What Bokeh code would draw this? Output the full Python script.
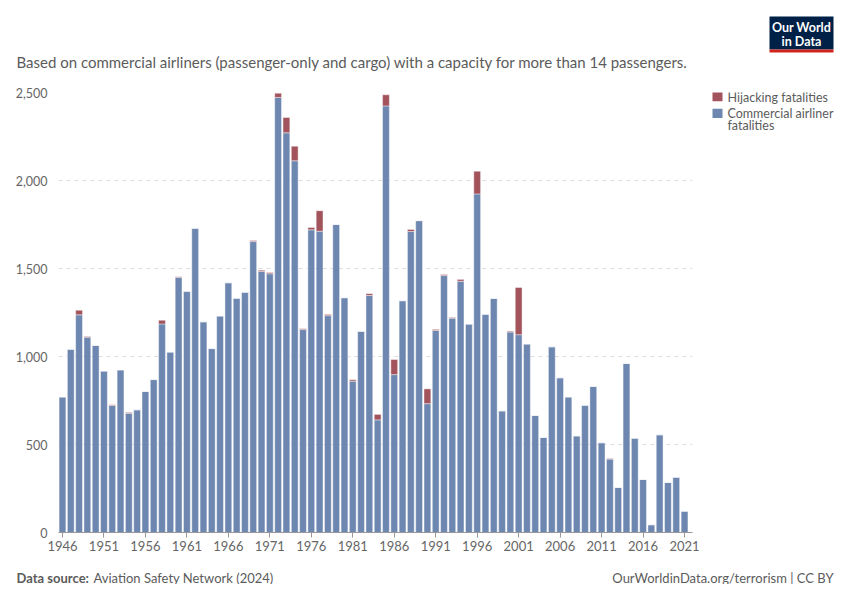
from bokeh.plotting import figure
from bokeh.layouts import column, row
from bokeh.models import ColumnDataSource, Range1d, FixedTicker, NumeralTickFormatter
from bokeh.core.properties import value
from bokeh.embed import file_html
from bokeh.resources import INLINE

years = list(range(1946, 2022))
commercial = [770, 1041, 1237, 1110, 1063, 917, 722, 924, 677, 697,
              801, 869, 1185, 1025, 1450, 1369, 1728, 1197, 1045, 1230,
              1419, 1331, 1365, 1653, 1483, 1470, 2472, 2271, 2112, 1153,
              1720, 1712, 1232, 1750, 1334, 860, 1143, 1347, 640, 2424,
              897, 1317, 1710, 1772, 732, 1148, 1460, 1218, 1428, 1184,
              1924, 1240, 1330, 691, 1139, 1124, 1071, 665, 540, 1055,
              879, 770, 549, 723, 830, 510, 417, 256, 960, 536,
              301, 44, 555, 284, 314, 121]
hijacking = [0, 0, 26, 3, 0, 0, 4, 0, 5, 0,
             0, 0, 21, 0, 3, 2, 0, 0, 0, 0,
             0, 0, 0, 6, 7, 7, 24, 87, 83, 5,
             13, 116, 7, 0, 0, 8, 0, 10, 31, 63,
             86, 0, 12, 0, 84, 6, 6, 4, 10, 0,
             129, 0, 0, 0, 5, 268, 0, 0, 0, 0,
             0, 0, 0, 0, 0, 0, 3, 0, 0, 0,
             0, 0, 0, 0, 0, 0]
x_ticks = list(range(1946, 2022, 5))
y_ticks = [0, 500, 1000, 1500, 2000, 2500]

subtitle = "Based on commercial airliners (passenger-only and cargo) with a capacity for more than 14 passengers."
legend_lines = ["Hijacking fatalities", "Commercial airliner", "fatalities"]
logo_lines = ["Our World", "in Data"]
source_bold = "Data source:"
source_text = "Aviation Safety Network (2024)"
credit = "OurWorldinData.org/terrorism | CC BY"

BLUE = "#6d87b0"
RED = "#a2535c"
GREY = "#5b5b5b"
FONT = "Lato"

TOTAL_W, TOTAL_H = 834, 584
TOP_H, MID_H = 80, 484
BOT_H = TOTAL_H - TOP_H - MID_H
MAIN_W = 700
RIGHT_W = TOTAL_W - MAIN_W


def panel(w, h):
    f = figure(width=w, height=h, output_backend="svg", toolbar_location=None,
               title=None,
               x_range=Range1d(0, w), y_range=Range1d(h, 0),
               x_axis_location=None, y_axis_location=None,
               min_border=0)
    f.grid.visible = False
    f.outline_line_color = None
    f.background_fill_color = "white"
    f.border_fill_color = "white"
    return f


def txt(f, x, y, s, size="13px", color=GREY, style="normal", align="left"):
    f.text(x=[x], y=[y], text=[s], text_font=value(FONT), text_font_size=size,
           text_color=color, text_font_style=style, text_align=align,
           text_baseline="middle")


# ---- top panel (page y 0..80) ----
top = panel(TOTAL_W, TOP_H)
txt(top, 16, 61, subtitle, size="15px")
top.quad(left=[769], right=[833], top=[16], bottom=[49], fill_color="#002147", line_color=None)
top.quad(left=[769], right=[833], top=[49], bottom=[52], fill_color="#ce261e", line_color=None)
txt(top, 801, 27, logo_lines[0], size="12.5px", color="white", style="bold", align="center")
txt(top, 801, 41, logo_lines[1], size="12.5px", color="white", style="bold", align="center")

# ---- main chart (page x 0..700, y 80..564) ----
ML = 58
MR = MAIN_W - 692
MT = 92 - TOP_H
MB = TOP_H + MID_H - 532
src = ColumnDataSource(dict(year=years, commercial=commercial, hijacking=hijacking))
p = figure(width=MAIN_W, height=MID_H, output_backend="svg", toolbar_location=None,
           x_range=Range1d(1945.52, 2021.96), y_range=Range1d(0, 2500),
           min_border_left=ML, min_border_right=MR, min_border_top=MT, min_border_bottom=MB)
p.outline_line_color = None
p.background_fill_color = "white"
p.border_fill_color = "white"

p.vbar_stack(["commercial", "hijacking"], x="year", width=0.82, source=src,
             color=[BLUE, RED], line_color="white", line_width=0.6, line_alpha=0.7)

p.xgrid.visible = False
p.ygrid.grid_line_color = "#dcdcdc"
p.ygrid.grid_line_dash = "4 4"
p.ygrid.grid_line_width = 1

p.yaxis.ticker = FixedTicker(ticks=y_ticks)
p.yaxis.formatter = NumeralTickFormatter(format="0,0")
p.yaxis.axis_line_color = None
p.yaxis.major_tick_line_color = None
p.yaxis.minor_tick_line_color = None
p.yaxis.major_label_text_font = FONT
p.yaxis.major_label_text_font_size = "12.5px"
p.yaxis.major_label_text_color = "#666666"
p.yaxis.major_label_standoff = 5

p.xaxis.ticker = FixedTicker(ticks=x_ticks)
p.xaxis.axis_line_color = "#999999"
p.xaxis.major_tick_line_color = "#999999"
p.xaxis.major_tick_out = 5
p.xaxis.major_tick_in = 0
p.xaxis.minor_tick_line_color = None
p.xaxis.major_label_text_font = FONT
p.xaxis.major_label_text_font_size = "13px"
p.xaxis.major_label_text_color = "#666666"
p.xaxis.major_label_standoff = 3

# ---- right panel with legend (page x 700..834, y 80..564) ----
# the panel renders about 10px lower than the row top, so compensate
right = panel(RIGHT_W, MID_H)
ox, oy = MAIN_W, TOP_H + 10
right.quad(left=[712 - ox], right=[722 - ox], top=[89.5 - oy], bottom=[99.5 - oy],
           fill_color=RED, line_color=None)
right.quad(left=[712 - ox], right=[722 - ox], top=[108 - oy], bottom=[118 - oy],
           fill_color=BLUE, line_color=None)
txt(right, 727 - ox, 95.5 - oy, legend_lines[0], size="12.5px")
txt(right, 727 - ox, 113 - oy, legend_lines[1], size="12.5px")
txt(right, 727 - ox, 126 - oy, legend_lines[2], size="12.5px")

# ---- bottom panel (page y 564..584) ----
bot = panel(TOTAL_W, BOT_H)
by = 577 - TOP_H - MID_H
txt(bot, 16, by, source_bold, style="bold")
txt(bot, 93, by, source_text)
txt(bot, 833, by, credit, align="right")

layout = column(top, row(p, right), bot)
open("out.html", "w").write(file_html(layout, INLINE))
